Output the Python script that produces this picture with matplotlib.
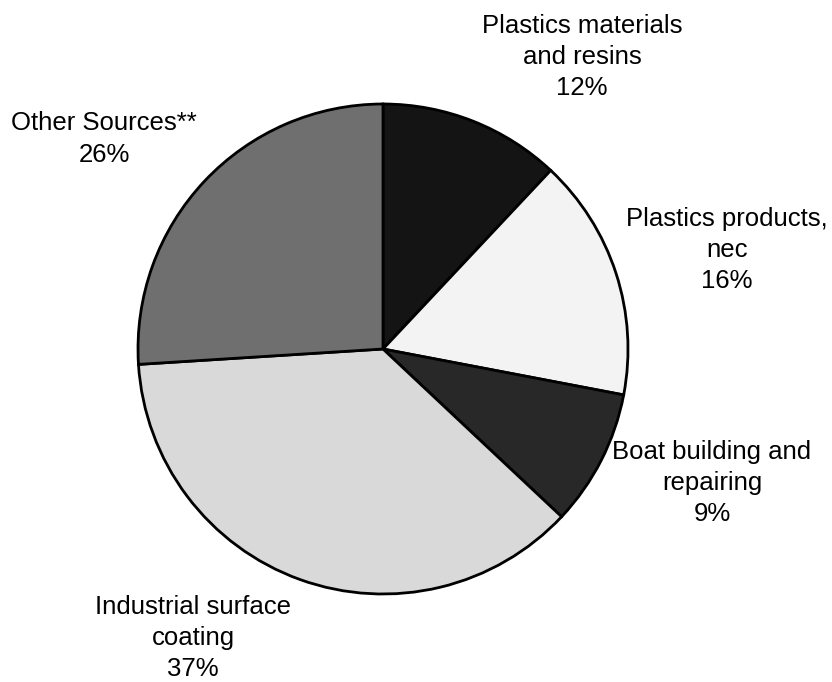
import matplotlib
matplotlib.use("Agg")
import matplotlib.pyplot as plt

categories = ["Plastics materials\nand resins", "Plastics products,\nnec",
              "Boat building and\nrepairing", "Industrial surface\ncoating",
              "Other Sources**"]
values = [12, 16, 9, 37, 26]
colors = ["#141414", "#f3f3f3", "#282828", "#d9d9d9", "#6f6f6f"]

W, H = 832, 682
fig = plt.figure(figsize=(W / 100, H / 100), dpi=100)
ax = fig.add_axes([0, 0, 1, 1])

cx, cy, r = 383, H - 349, 245
wedges, _ = ax.pie(values, colors=colors, startangle=90, counterclock=False,
                   center=(cx, cy), radius=r, frame=True,
                   wedgeprops=dict(edgecolor="black", linewidth=2))
ax.set_xlim(0, W)
ax.set_ylim(0, H)
ax.set_aspect("equal")
ax.axis("off")

label_pos = [(582, 57), (727, 250), (712, 483), (193, 638), (104, 139)]
for cat, v, (x, y) in zip(categories, values, label_pos):
    ax.text(x, H - y, f"{cat}\n{v}%", ha="center", va="center",
            fontsize=18.5, family="Liberation Sans", linespacing=1.38)

fig.savefig("out.png", dpi=100)
